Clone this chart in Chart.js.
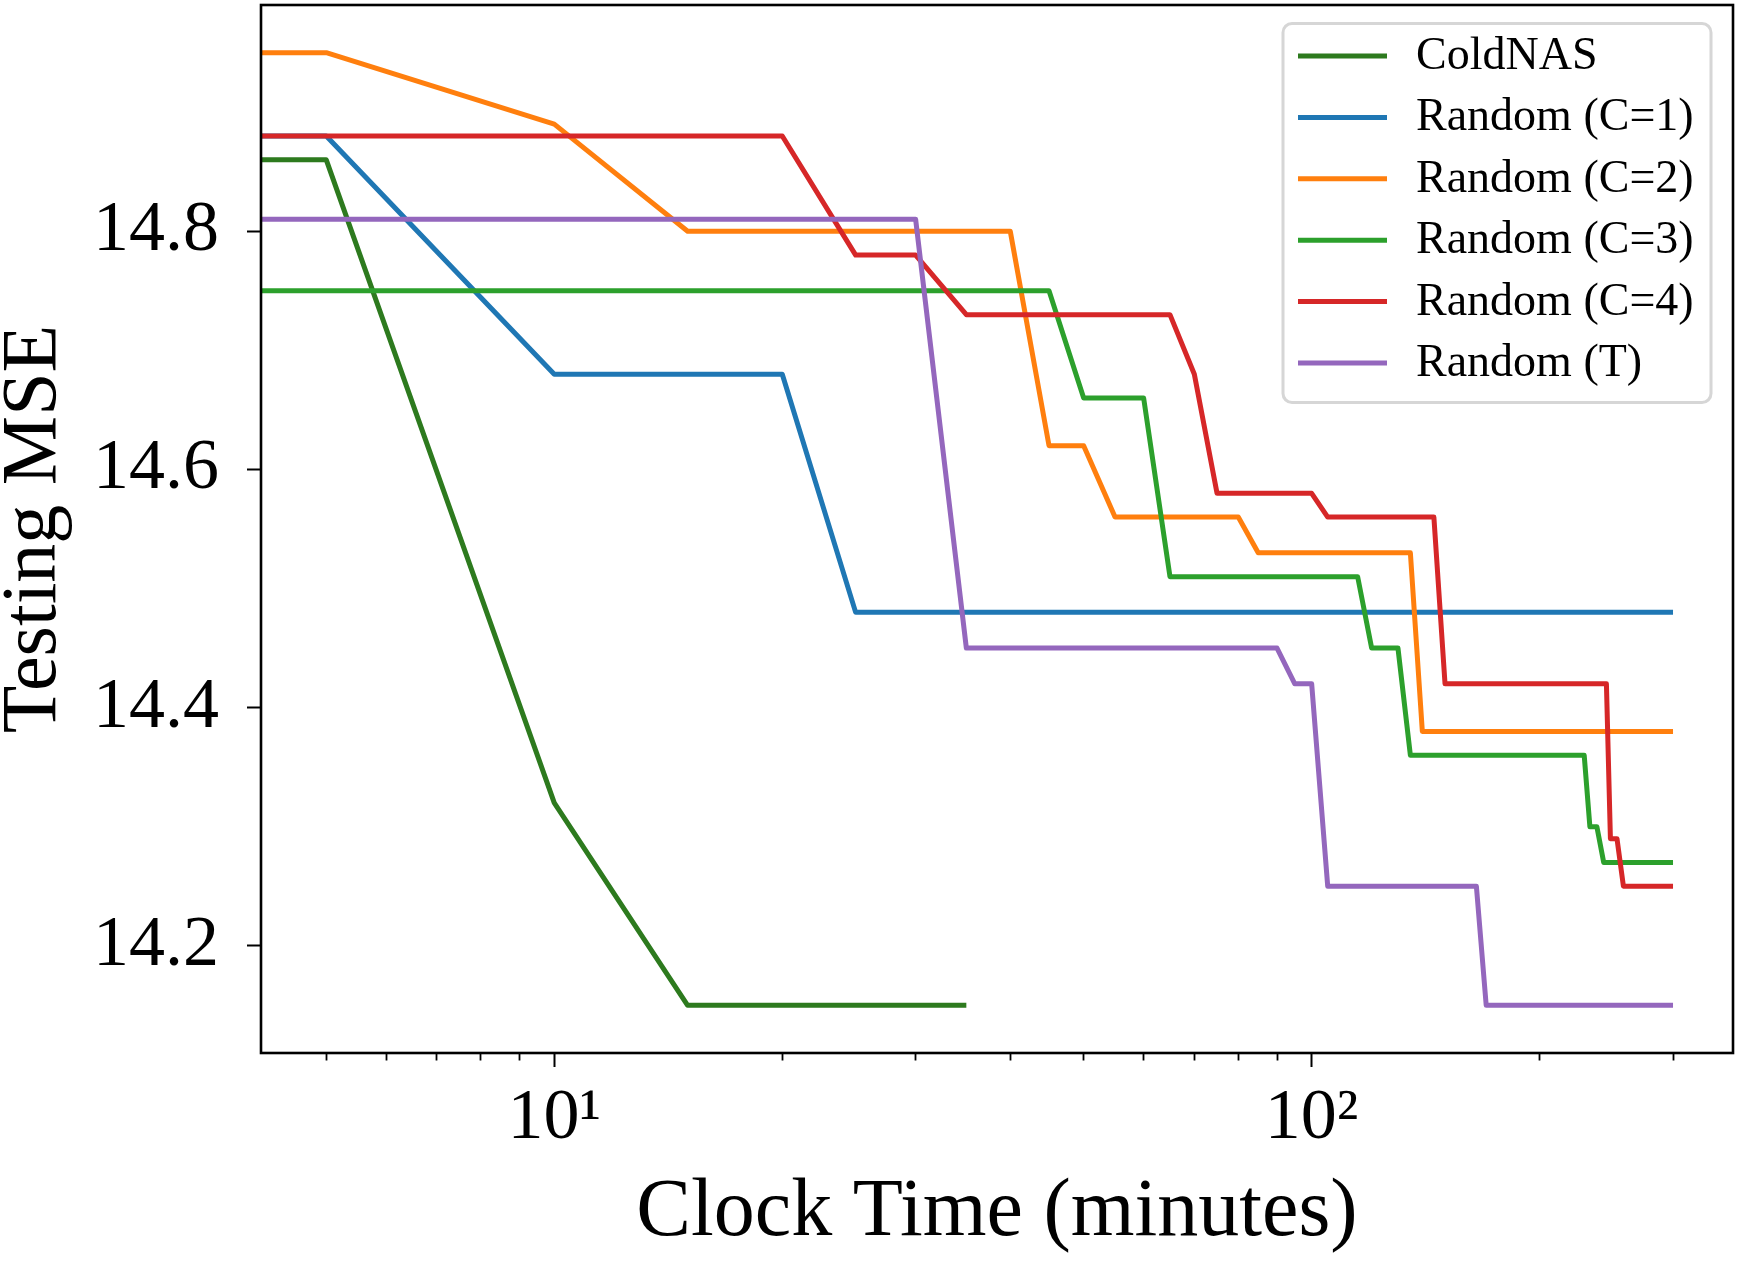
<!DOCTYPE html>
<html>
<head>
<meta charset="utf-8">
<script src="https://cdn.jsdelivr.net/npm/chart.js@4.4.0/dist/chart.umd.min.js"></script>
<style>
html,body{margin:0;padding:0;background:#ffffff;overflow:hidden}
canvas{display:block}
</style>
</head>
<body>
<canvas id="c" width="1742" height="1262"></canvas>
<script>
// ---- data ----
const seriesLabels = ['ColdNAS', 'Random (C=1)', 'Random (C=2)', 'Random (C=3)', 'Random (C=4)', 'Random (T)'];

const coldnasX = [4, 5, 10, 15, 35];
const coldnasY = [14.86, 14.86, 14.32, 14.15, 14.15];

const randC1X = [4, 5, 10, 20, 25, 300];
const randC1Y = [14.88, 14.88, 14.68, 14.68, 14.48, 14.48];

const randC2X = [4, 5, 10, 15, 40, 45, 50, 55, 80, 85, 135, 140, 300];
const randC2Y = [14.95, 14.95, 14.89, 14.80, 14.80, 14.62, 14.62, 14.56, 14.56, 14.53, 14.53, 14.38, 14.38];

const randC3X = [4, 45, 50, 60, 65, 115, 120, 130, 135, 229, 233, 238, 243, 300];
const randC3Y = [14.75, 14.75, 14.66, 14.66, 14.51, 14.51, 14.45, 14.45, 14.36, 14.36, 14.30, 14.30, 14.27, 14.27];

const randC4X = [4, 20, 25, 30, 35, 65, 70, 75, 100, 105, 145, 150, 245, 248, 253, 258, 300];
const randC4Y = [14.88, 14.88, 14.78, 14.78, 14.73, 14.73, 14.68, 14.58, 14.58, 14.56, 14.56, 14.42, 14.42, 14.29, 14.29, 14.25, 14.25];

const randTX = [4, 30, 35, 90, 95, 100, 105, 165, 170, 300];
const randTY = [14.81, 14.81, 14.45, 14.45, 14.42, 14.42, 14.25, 14.25, 14.15, 14.15];

const xRange = [4.1, 360];
const yRange = [14.11, 14.99];
const yTicks = [14.2, 14.4, 14.6, 14.8];
const xMajorTicks = [10, 100];
const xMajorLabels = ['10\u00B9', '10\u00B2'];
const xMinorTicks = [5, 6, 7, 8, 9, 20, 30, 40, 50, 60, 70, 80, 90, 200, 300];

// ---- styles ----
const seriesColors = ['#2d7a1e', '#1f77b4', '#ff7f0e', '#2ca02c', '#d62728', '#9467bd'];
const FONT = "'Liberation Serif', 'Times New Roman', serif";

const seriesX = [coldnasX, randC1X, randC2X, randC3X, randC4X, randTX];
const seriesY = [coldnasY, randC1Y, randC2Y, randC3Y, randC4Y, randTY];

const datasets = seriesLabels.map((label, i) => ({
  label: label,
  data: seriesX[i].map((x, j) => ({x: x, y: seriesY[i][j]})),
  borderColor: seriesColors[i],
  backgroundColor: seriesColors[i],
  borderWidth: 5,
  pointRadius: 0,
  pointHoverRadius: 0,
  tension: 0,
  fill: false,
  borderJoinStyle: 'round',
  borderCapStyle: 'butt',
  clip: 0,
  order: seriesLabels.length - 1 - i
}));

function zeroPad(scale) {
  scale.paddingTop = 0; scale.paddingBottom = 0;
  scale.paddingLeft = 0; scale.paddingRight = 0;
}

const framePlugin = {
  id: 'frame',
  afterDatasetsDraw(chart) {
    const {ctx, chartArea: a} = chart;
    ctx.save();
    ctx.strokeStyle = '#000';
    ctx.lineWidth = 2.6;
    ctx.strokeRect(a.left, a.top, a.right - a.left, a.bottom - a.top);
    ctx.restore();
  }
};

const boxLegendPlugin = {
  id: 'boxLegend',
  afterDraw(chart) {
    const {ctx, chartArea: a} = chart;
    const w = 428, h = 379, r = 9;
    const x0 = a.right - 22 - w;
    const y0 = a.top + 18.5;
    ctx.save();
    ctx.beginPath();
    ctx.moveTo(x0 + r, y0);
    ctx.lineTo(x0 + w - r, y0);
    ctx.arcTo(x0 + w, y0, x0 + w, y0 + r, r);
    ctx.lineTo(x0 + w, y0 + h - r);
    ctx.arcTo(x0 + w, y0 + h, x0 + w - r, y0 + h, r);
    ctx.lineTo(x0 + r, y0 + h);
    ctx.arcTo(x0, y0 + h, x0, y0 + h - r, r);
    ctx.lineTo(x0, y0 + r);
    ctx.arcTo(x0, y0, x0 + r, y0, r);
    ctx.closePath();
    ctx.fillStyle = 'rgba(255,255,255,0.8)';
    ctx.fill();
    ctx.strokeStyle = '#d6d6d6';
    ctx.lineWidth = 3;
    ctx.stroke();
    ctx.font = '46px ' + FONT;
    ctx.textBaseline = 'middle';
    ctx.textAlign = 'left';
    chart.data.datasets.forEach((ds, i) => {
      const yy = y0 + 32.5 + i * 61.4;
      ctx.strokeStyle = ds.borderColor;
      ctx.lineWidth = 5;
      ctx.beginPath();
      ctx.moveTo(x0 + 15, yy);
      ctx.lineTo(x0 + 104, yy);
      ctx.stroke();
      ctx.fillStyle = '#000';
      ctx.fillText(ds.label, x0 + 133, yy + 1);
    });
    ctx.restore();
  }
};

new Chart(document.getElementById('c'), {
  type: 'line',
  data: {datasets: datasets},
  options: {
    responsive: false,
    devicePixelRatio: 1,
    animation: false,
    events: [],
    layout: {padding: {left: 0, right: 9, top: 5, bottom: 0}},
    plugins: {legend: {display: false}, tooltip: {enabled: false}},
    scales: {
      xMinor: {
        type: 'logarithmic',
        position: 'bottom',
        weight: -1,
        min: xRange[0], max: xRange[1],
        border: {display: false},
        grid: {drawOnChartArea: false, drawTicks: true, tickLength: 7.5, tickColor: '#000', tickWidth: 1.8},
        ticks: {display: false, autoSkip: false},
        afterBuildTicks: (s) => { s.ticks = xMinorTicks.map(v => ({value: v})); },
        afterFit: (s) => { s.height = 0; zeroPad(s); }
      },
      x: {
        type: 'logarithmic',
        position: 'bottom',
        weight: 1,
        min: xRange[0], max: xRange[1],
        border: {display: false},
        grid: {drawOnChartArea: false, drawTicks: true, tickLength: 14, tickColor: '#000', tickWidth: 2},
        ticks: {
          autoSkip: false, maxRotation: 0, minRotation: 0, padding: 16, color: '#000',
          font: {family: FONT, size: 72, lineHeight: 1},
          callback: (v) => { const k = xMajorTicks.indexOf(v); return k >= 0 ? xMajorLabels[k] : ''; }
        },
        afterBuildTicks: (s) => { s.ticks = xMajorTicks.map(v => ({value: v})); },
        title: {display: true, text: 'Clock Time (minutes)', color: '#000',
                font: {family: FONT, size: 82, lineHeight: 1}, padding: {top: 0, bottom: 8}},
        afterFit: (s) => { s.height = 209; zeroPad(s); }
      },
      y: {
        type: 'linear',
        position: 'left',
        min: yRange[0], max: yRange[1],
        border: {display: false},
        grid: {drawOnChartArea: false, drawTicks: true, tickLength: 14, tickColor: '#000', tickWidth: 2},
        ticks: {
          padding: 28, color: '#000',
          font: {family: FONT, size: 72, lineHeight: 1},
          callback: (v) => Number(v).toFixed(1)
        },
        afterBuildTicks: (s) => { s.ticks = yTicks.map(v => ({value: v})); },
        title: {display: true, text: 'Testing MSE', color: '#000',
                font: {family: FONT, size: 78, lineHeight: 0.8}, padding: {top: 3, bottom: 0}},
        afterFit: (s) => { s.width = 261; zeroPad(s); }
      }
    }
  },
  plugins: [framePlugin, boxLegendPlugin]
});
</script>
</body>
</html>
